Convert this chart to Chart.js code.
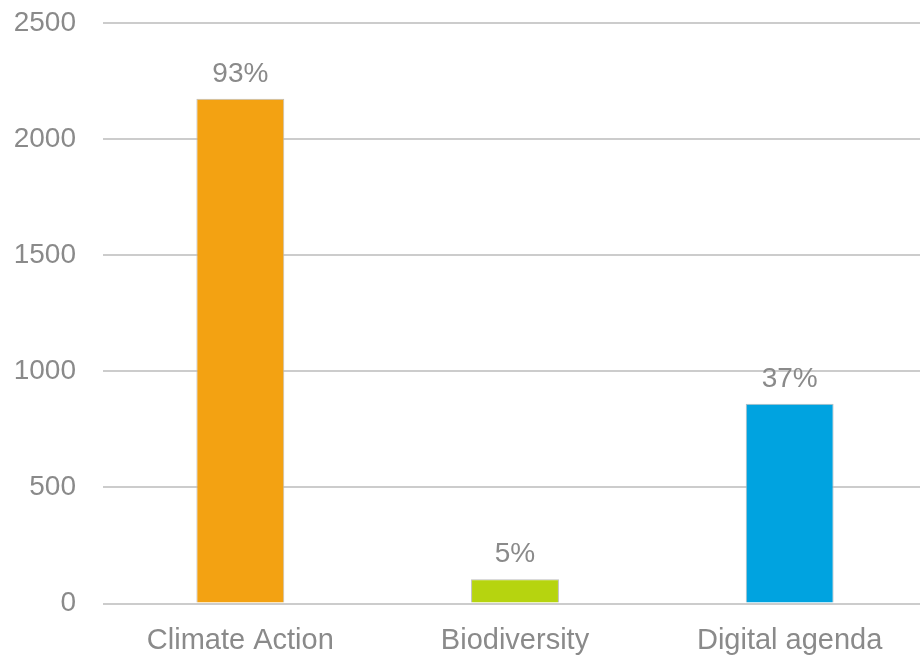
<!DOCTYPE html>
<html>
<head>
<meta charset="utf-8">
<script src="https://cdn.jsdelivr.net/npm/chart.js@4/dist/chart.umd.min.js"></script>
<style>
  html, body { margin: 0; padding: 0; background: #fff; overflow: hidden; }
  #wrap { width: 920px; height: 655px; overflow: hidden; }
</style>
</head>
<body>
<div id="wrap"><canvas id="themeChart" width="927" height="655"></canvas></div>
<script>
const categories = ['Climate Action', 'Biodiversity', 'Digital agenda'];
const amounts = [2174, 104, 860];
const shares = ['93%', '5%', '37%'];
const barColors = ['#f3a212', '#b6d40f', '#00a3e0'];
const yTicks = [0, 500, 1000, 1500, 2000, 2500];

const textGrey = '#8a8a8a';
const font = { family: '"Liberation Sans", Arial, sans-serif', size: 28 };

// writes the share text above each bar
const shareLabels = {
    id: 'shareLabels',
    afterDatasetsDraw(chart) {
        const ctx = chart.ctx;
        const meta = chart.getDatasetMeta(0);
        ctx.save();
        ctx.font = `${font.size}px ${font.family}`;
        ctx.fillStyle = textGrey;
        ctx.textAlign = 'center';
        ctx.textBaseline = 'alphabetic';
        meta.data.forEach((bar, i) => {
            const { x, y } = bar.getProps(['x', 'y'], true);
            ctx.fillText(shares[i], x, y - 17);
        });
        ctx.restore();
    }
};

new Chart(document.getElementById('themeChart'), {
    type: 'bar',
    data: {
        labels: categories,
        datasets: [{
            data: amounts,
            backgroundColor: barColors,
            borderColor: '#bdbdbd',
            borderWidth: 1,
            barPercentage: 0.32,
            categoryPercentage: 1
        }]
    },
    options: {
        responsive: false,
        animation: false,
        layout: { autoPadding: false, padding: { top: 23, right: 0, left: 0, bottom: 0 } },
        plugins: { legend: { display: false }, tooltip: { enabled: false } },
        scales: {
            x: {
                grid: { display: false },
                border: { display: false },
                ticks: { color: textGrey, font: { family: font.family, size: 29 }, padding: 12, maxRotation: 0 },
                afterFit(scale) { scale.height = 51.5; }
            },
            y: {
                min: 0,
                max: 2500,
                afterBuildTicks(scale) { scale.ticks = yTicks.map(v => ({ value: v })); },
                grid: { color: '#cccccc', lineWidth: 2, drawTicks: false },
                border: { display: false },
                ticks: { color: textGrey, font: font, padding: 27, callback: v => String(v) },
                afterFit(scale) {
                    scale.width = 103;
                    scale.paddingTop = 0;
                    scale.paddingBottom = 0;
                }
            }
        }
    },
    plugins: [shareLabels]
});
</script>
</body>
</html>
